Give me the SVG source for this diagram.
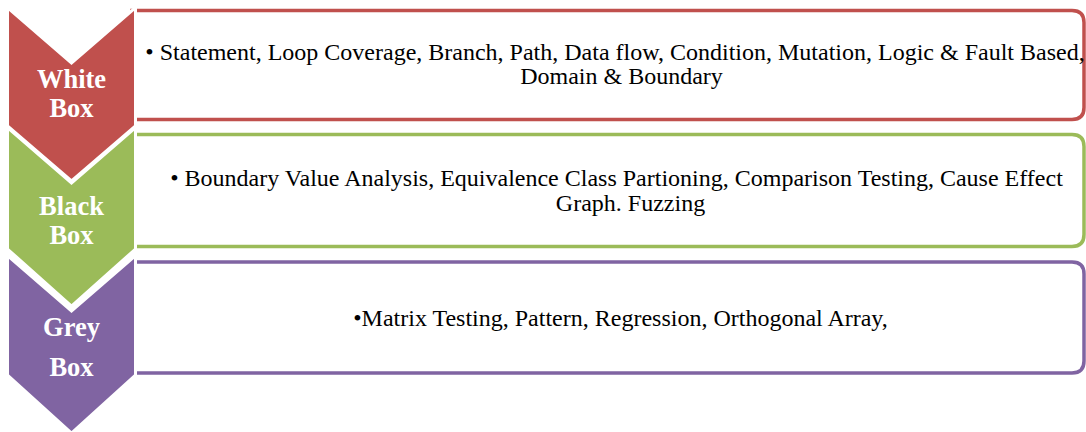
<svg xmlns="http://www.w3.org/2000/svg" width="1086" height="432" viewBox="0 0 1086 432">
<style>
.box{fill:#fff;stroke-width:3.5}
.chev{stroke:#fff;stroke-width:3;stroke-linejoin:miter}
.lbl{font-family:"Liberation Serif","Times New Roman",serif;font-weight:bold;font-size:26.5px;fill:#fff;text-anchor:middle}
.body{font-family:"Liberation Serif","Times New Roman",serif;font-size:24px;fill:#000;text-anchor:middle}
</style>
<rect width="1086" height="432" fill="#fff"/>
<g id="row-white-box">
<path class="box" stroke="#C0504D" d="M132,10.5 H1072 Q1084,10.5 1084,22.5 V107.5 Q1084,119.5 1072,119.5 H132 Z"/>
</g>
<g id="row-black-box">
<path class="box" stroke="#9BBB59" d="M132,134.5 H1072 Q1084,134.5 1084,146.5 V234.5 Q1084,246.5 1072,246.5 H132 Z"/>
</g>
<g id="row-grey-box">
<path class="box" stroke="#8064A2" d="M132,262 H1072 Q1084,262 1084,274 V361 Q1084,373 1072,373 H132 Z"/>
</g>
<g id="chevron-grey">
<polygon class="chev" fill="#8064A2" points="7.5,255.5 71.5,311 135.5,255.5 135.5,375 71.5,433 7.5,375"/>
<text class="lbl" x="71.5" y="336">Grey</text>
<text class="lbl" x="71.5" y="376">Box</text>
</g>
<g id="chevron-black">
<polygon class="chev" fill="#9BBB59" points="7.5,127.5 71.5,183 135.5,127.5 135.5,249 71.5,306 7.5,249"/>
<text class="lbl" x="71.5" y="214.5">Black</text>
<text class="lbl" x="71.5" y="244">Box</text>
</g>
<g id="chevron-white">
<polygon class="chev" fill="#C0504D" points="7.5,7.5 71.5,63 135.5,7.5 135.5,126 71.5,181 7.5,126"/>
<text class="lbl" x="71.5" y="88">White</text>
<text class="lbl" x="71.5" y="117">Box</text>
</g>
<g id="texts">
<text class="body" x="615" y="60">• Statement, Loop Coverage, Branch, Path, Data flow, Condition, Mutation, Logic &amp; Fault Based,</text>
<text class="body" x="621.5" y="84">Domain &amp; Boundary</text>
<text class="body" x="616.5" y="186">• Boundary Value Analysis, Equivalence Class Partioning, Comparison Testing, Cause Effect</text>
<text class="body" x="630.5" y="211">Graph. Fuzzing</text>
<text class="body" x="620.5" y="326">•Matrix Testing, Pattern, Regression, Orthogonal Array,</text>
</g>
<g id="connectors"/>
</svg>
